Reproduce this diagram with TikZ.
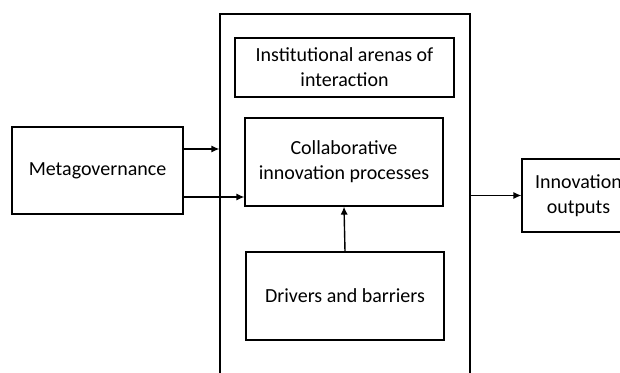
\documentclass[tikz,border=0pt]{standalone}
\usepackage{fontspec}
\setmainfont{Carlito}
\usepackage{tikz}
\usetikzlibrary{shapes,arrows.meta,positioning}

\begin{document}
\begin{tikzpicture}[x=0.5pt,y=-0.5pt,
  box/.style={draw, rectangle, line width=0.6pt, inner sep=0pt, align=center,
    font=\fontsize{10}{12.4}\selectfont},
  link/.style={-{Latex[length=4pt,width=3.6pt]}, line width=0.7pt}]
\useasboundingbox (0,0) rectangle (620,373);
\clip (0,0) rectangle (620,373);

\node (frame) [box, minimum width=125pt, minimum height=188pt] at (345,202) {};
\node (meta) [box, minimum width=85.5pt, minimum height=43.5pt] at (97.5,170.5) {Metagovernance};
\node (arenas) [box, minimum width=109.5pt, minimum height=29.5pt] at (344.5,67.5) {Institutional arenas of\\interaction};
\node (collab) [box, minimum width=99pt, minimum height=44pt] at (344,162) {Collaborative\\innovation processes};
\node (drivers) [box, minimum width=99pt, minimum height=44pt] at (345,296) {Drivers and barriers};
\node (outputs) [box, minimum width=56.5pt, minimum height=36.5pt] at (578.5,195.5) {Innovation\\outputs};

\draw[link] ([yshift=10.75pt]meta.east) -- ([yshift=10.75pt]meta.east -| frame.west);
\draw[link] ([yshift=-13.25pt]meta.east) -- ([yshift=-13.25pt]meta.east -| collab.west);
\draw[link] (outputs.west -| frame.east) -- (outputs.west);
\draw[link] (drivers.north) -- (collab.south);
\end{tikzpicture}
\end{document}
